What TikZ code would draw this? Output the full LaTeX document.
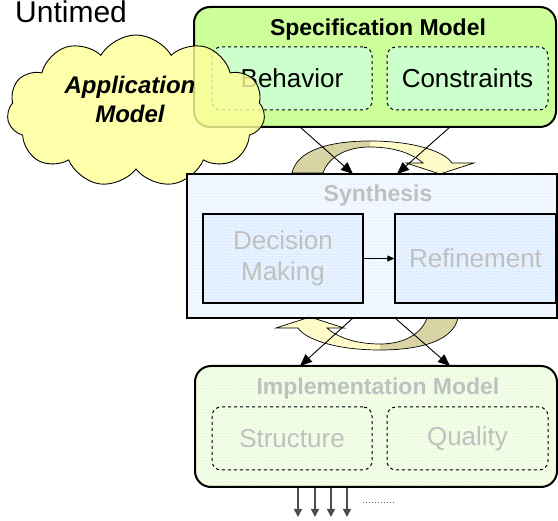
\documentclass[tikz,border=0pt]{standalone}
\usepackage{fontspec}
\setmainfont{Liberation Sans}
\usetikzlibrary{shapes.symbols,patterns,arrows.meta}
\definecolor{specgreen}{HTML}{CCFF99}
\definecolor{specinner}{HTML}{CCFFCC}
\definecolor{cloudyellow}{HTML}{FFFF99}
\definecolor{synbase}{HTML}{F3F9FF}
\definecolor{syndots}{HTML}{B9DCFF}
\definecolor{decbase}{HTML}{E8F3FF}
\definecolor{decdots}{HTML}{99C8FF}
\definecolor{impbase}{HTML}{F3FDEA}
\definecolor{impdots}{HTML}{BDF29A}
\definecolor{ribdark}{HTML}{D8D4A4}
\definecolor{riblight}{HTML}{FFFBC8}
\definecolor{fadetext}{HTML}{C0C0C0}
\newcommand\ribbonshape{(292,173) .. controls (297,150) and (330,141) .. (370,141) .. controls (415,141) and (445,152) .. (452,163) -- (474,163) -- (440,174) -- (406,163) -- (423,163) .. controls (413,154) and (395,147) .. (370,147) .. controls (345,147) and (328,158) .. (323,173) -- cycle}
\newcommand\myribbon{%
  \fill[riblight] \ribbonshape;
  \begin{scope}
    \clip (280,130) rectangle (370,180);
    \fill[ribdark] \ribbonshape;
  \end{scope}
  \draw[line width=0.7pt] \ribbonshape;
}
\begin{document}
\begin{tikzpicture}[x=1pt,y=-1pt,
  titletext/.style={font=\fontsize{23}{27}\selectfont\bfseries, inner sep=0},
  bodytext/.style={font=\fontsize{26}{31}\selectfont, align=center},
  modelbox/.style={draw, line width=2pt, rounded corners=16pt, inner sep=0},
  partbox/.style={draw, dashed, line width=1pt, rounded corners=9pt, inner sep=0, bodytext},
  synbox/.style={draw, line width=2.5pt, inner sep=0, preaction={fill=synbase}, pattern=dots, pattern color=syndots},
  stagebox/.style={draw, line width=1.3pt, inner sep=0, bodytext, text=fadetext, preaction={fill=decbase}, pattern=dots, pattern color=decdots},
  flow/.style={line width=0.9pt, -{Triangle[length=12pt,width=10pt]}},
  outarrow/.style={line width=1.5pt, draw=black!70, -{Triangle[length=8pt,width=8pt]}}
]
\useasboundingbox (0,0) rectangle (558,521);

% Untimed label
\node[anchor=base west, font=\fontsize{30}{36}\selectfont, inner sep=0] (untimed) at (15,23) {Untimed};

% Specification model
\node[modelbox, fill=specgreen, minimum width=362pt, minimum height=120pt] (spec) at (375,67) {};
\node[titletext, anchor=base] (spectitle) at (378,36) {Specification Model};
\node[partbox, fill=specinner, minimum width=160pt, minimum height=63pt] (beh) at (292,78.5) {Behavior};
\node[partbox, fill=specinner, minimum width=161pt, minimum height=63pt] (con) at (467.5,78.5) {Constraints};

% Application model cloud
\node[cloud, cloud puffs=11, cloud puff arc=120, cloud ignores aspect, draw, line width=0.9pt,
      fill=cloudyellow, fill opacity=0.82, inner sep=0,
      minimum width=258pt, minimum height=152pt] (app) at (136,111) {};
\node[align=center, inner sep=0, font=\fontsize{24}{29}\selectfont\bfseries\itshape] (apptext) at (130,99) {Application\\Model};

% upper ribbon arrow
\myribbon
% lower ribbon arrow
\begin{scope}[rotate around={180:(375,245.5)}]
\myribbon
\end{scope}

% Synthesis
\node[synbox, minimum width=370pt, minimum height=144pt] (syn) at (372,246) {};
\node[titletext, anchor=base, text=fadetext] (syntitle) at (378,202) {Synthesis};
\node[stagebox, minimum width=160pt, minimum height=89pt] (dec) at (283,258.5) {Decision\\Making};
\node[stagebox, minimum width=161pt, minimum height=89pt] (ref) at (475.5,258.5) {Refinement};
\draw[line width=0.9pt, -{Triangle[length=7pt,width=6pt]}] (dec) -- (ref);

% Implementation model
\node[modelbox, preaction={fill=impbase}, pattern=dots, pattern color=impdots, minimum width=362pt, minimum height=121pt] (imp) at (376,426.5) {};
\node[titletext, anchor=base, text=fadetext] (imptitle) at (378,395) {Implementation Model};
\node[partbox, text=fadetext, preaction={fill=impbase}, pattern=dots, pattern color=impdots, minimum width=160pt, minimum height=63pt] (str) at (292,438.5) {Structure};
\node[partbox, text=fadetext, preaction={fill=impbase}, pattern=dots, pattern color=impdots, minimum width=161pt, minimum height=63pt] (qua) at (467.5,438.5) {Quality};

% connectors
\coordinate (sa) at (300,127);
\coordinate (sb) at (450,127);
\coordinate (ta) at (353,174);
\coordinate (tb) at (397,174);
\coordinate (ua) at (353,318);
\coordinate (ub) at (395,318);
\coordinate (ia) at (300,366);
\coordinate (ib) at (450,366);
\draw[flow] (sa) -- (ta);
\draw[flow] (sb) -- (tb);
\draw[flow] (ua) -- (ia);
\draw[flow] (ub) -- (ib);

% outputs
\foreach \i/\x in {1/298,2/315,3/331,4/347}{
  \coordinate (o\i) at (\x,488);
  \coordinate (e\i) at (\x,517);
  \draw[outarrow] (o\i) -- (e\i);
}
\coordinate (d1) at (363,503);
\coordinate (d2) at (395,503);
\draw[line width=1pt, black!60, dotted] (d1) -- (d2);
\end{tikzpicture}
\end{document}
